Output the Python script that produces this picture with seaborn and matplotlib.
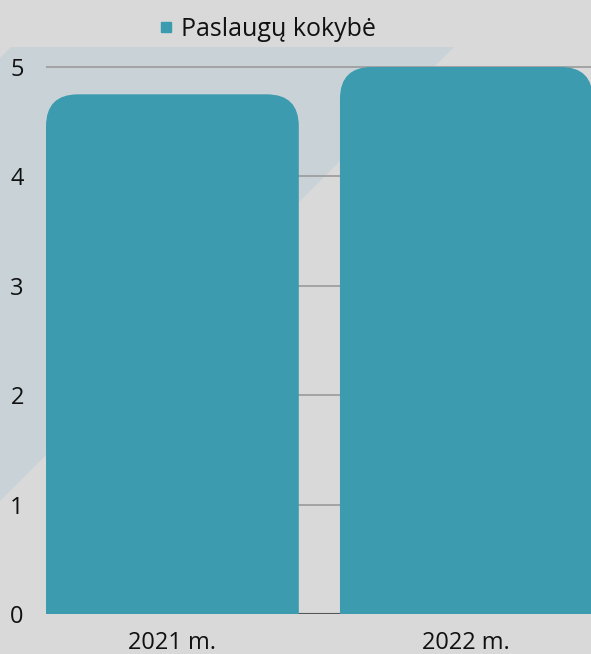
import seaborn as sns
import matplotlib.pyplot as plt
from matplotlib.patches import Polygon, PathPatch
from matplotlib.path import Path
from matplotlib.lines import Line2D

years = ["2021 m.", "2022 m."]
scores = [4.75, 5.0]
series_name = "Paslaugų kokybė"
yticks = [0, 1, 2, 3, 4, 5]

bar_color = "#3d9baf"
bg_color = "#d9d9d9"

sns.set_theme(style="white")
plt.rcParams["font.family"] = ["Open Sans", "DejaVu Sans"]

fig = plt.figure(figsize=(5.91, 6.54), dpi=100)
fig.patch.set_facecolor(bg_color)

# pale diagonal band behind the chart
band = Polygon([(11 / 591, 1 - 47 / 654), (454 / 591, 1 - 47 / 654),
                (0, 1 - 501 / 654), (0, 1 - 58 / 654)],
               closed=True, transform=fig.transFigure, facecolor="#c9d3d7",
               edgecolor="none", zorder=0)
fig.patches.append(band)

ax = fig.add_axes([46 / 591, 1 - 614 / 654, 1 - 46 / 591, (614 - 61.5) / 654])
ax.set_facecolor("none")
ax.set_zorder(2)

sns.barplot(x=years, y=scores, color=bar_color, width=0.86, ax=ax,
            saturation=1, zorder=3)

ax.set_xlim(-0.43, 1.424)
ax.set_ylim(0, 5.05)
ax.set_yticks(yticks)
ax.grid(axis="y", color="#9a9a9a", linewidth=1.2, zorder=1)
ax.set_axisbelow(True)
ax.axhline(0, color="#555555", linewidth=1.5, zorder=2)


def rounded_top(x, y, w, h, rx, ry):
    verts = [(x, y), (x, y + h - ry), (x, y + h), (x + rx, y + h),
             (x + w - rx, y + h), (x + w, y + h), (x + w, y + h - ry),
             (x + w, y), (x, y)]
    codes = [Path.MOVETO, Path.LINETO, Path.CURVE3, Path.CURVE3,
             Path.LINETO, Path.CURVE3, Path.CURVE3, Path.LINETO,
             Path.CLOSEPOLY]
    return Path(verts, codes)


# swap the plain bars for ones with rounded tops
rx = 32 / 294
ry = 32 / 109.4
for p in list(ax.patches):
    p.set_visible(False)
    path = rounded_top(p.get_x(), p.get_y(), p.get_width(), p.get_height(),
                       rx, ry)
    ax.add_patch(PathPatch(path, facecolor=bar_color, edgecolor="none",
                           zorder=3))

for s in ax.spines.values():
    s.set_visible(False)

ax.tick_params(axis="y", length=0, pad=16, labelsize=17, labelcolor="#111111")
ax.tick_params(axis="x", length=0, pad=12, labelsize=17, labelcolor="#111111")
ax.set_xlabel("")
ax.set_ylabel("")

handle = Line2D([], [], marker="s", linestyle="none", markersize=7,
                color=bar_color)
fig.legend(handles=[handle], labels=[series_name], loc="center",
           bbox_to_anchor=(266 / 591, 1 - 29 / 654), frameon=False,
           fontsize=18, handlelength=0.8, handletextpad=0.2,
           labelcolor="#111111")

fig.savefig("out.png", dpi=100, facecolor=bg_color)
